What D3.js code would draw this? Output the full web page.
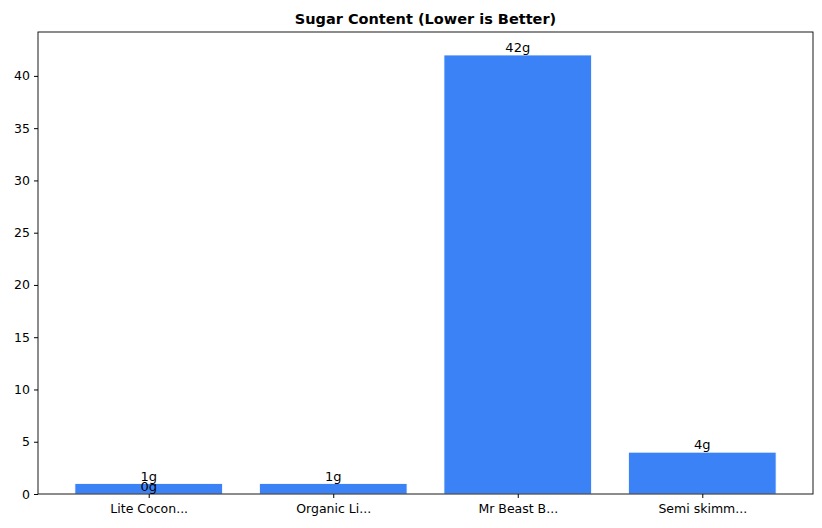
<!DOCTYPE html>
<html><head><meta charset="utf-8">
<script src="https://cdn.jsdelivr.net/npm/d3@7"></script>
<style>body{margin:0;background:#fff}text{font-family:"DejaVu Sans",sans-serif}</style>
</head><body><svg id="c" width="822" height="528"></svg>
<script>
const categories=["Lite Cocon...","Organic Li...","Mr Beast B...","Semi skimm..."];
const barCats=["Lite Cocon...","Lite Cocon...","Organic Li...","Mr Beast B...","Semi skimm..."];
const values=[1,0,1,42,4];
const yTicks=[0,5,10,15,20,25,30,35,40];
const svg=d3.select("#c");
const L=38,R=813,T=32,B=494;
const x=d3.scaleLinear().domain([-0.6,3.6]).range([L,R]);
const y=d3.scaleLinear().domain([0,44.2]).range([B,T]);
const bw=x(0.8)-x(0);
svg.append("text").attr("x",(L+R)/2).attr("y",24).attr("text-anchor","middle").attr("font-size",14.5).attr("font-weight","bold").text("Sugar Content (Lower is Better)");
svg.selectAll(".bar").data(values).enter().append("rect")
 .attr("x",(d,i)=>x(categories.indexOf(barCats[i]))-bw/2).attr("width",bw)
 .attr("y",d=>y(d)).attr("height",d=>B-y(d)).attr("fill","#3b82f6").attr("stroke","#fff").attr("stroke-width",0.8);
svg.selectAll(".lbl").data(values).enter().append("text")
 .attr("x",(d,i)=>x(categories.indexOf(barCats[i]))).attr("y",d=>y(d)-3)
 .attr("text-anchor","middle").attr("font-size",13).text(d=>d+"g");
const ya=svg.append("g").attr("transform",`translate(${L},0)`).call(d3.axisLeft(y).tickValues(yTicks).tickSize(4).tickPadding(4));
const xa=svg.append("g").attr("transform",`translate(0,${B})`).call(d3.axisBottom(x).tickValues([0,1,2,3]).tickFormat(i=>categories[i]).tickSize(4).tickPadding(6));
[ya,xa].forEach(a=>{a.select(".domain").remove();a.selectAll("text").attr("font-size",12.5).attr("fill","#000").style("font-family","DejaVu Sans");a.selectAll("line").attr("stroke","#000");});
svg.append("rect").attr("x",L).attr("y",T).attr("width",R-L).attr("height",B-T).attr("fill","none").attr("stroke","#000").attr("stroke-width",0.9);
</script></body></html>
